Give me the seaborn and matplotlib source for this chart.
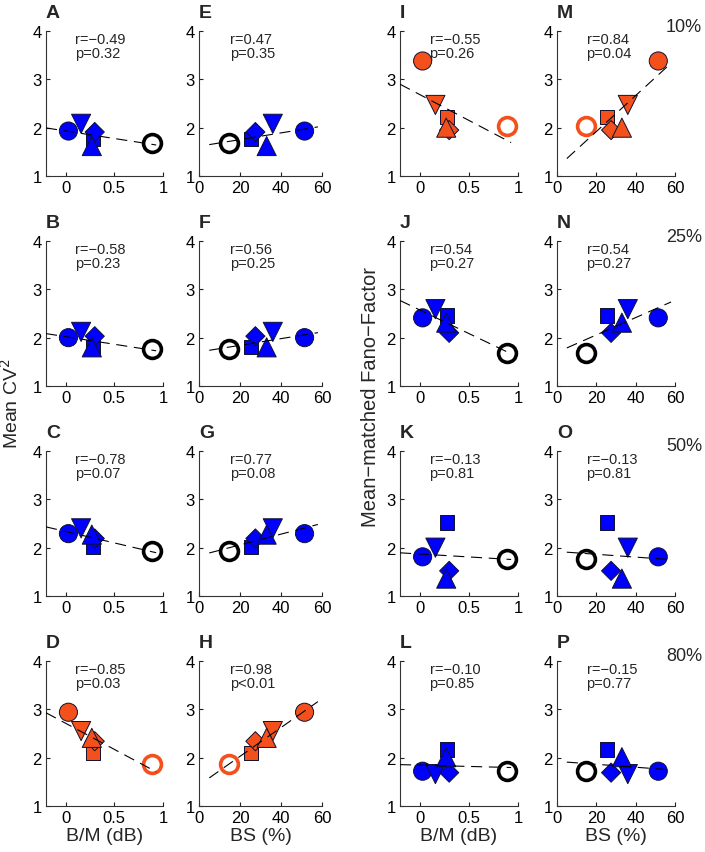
import numpy as np
import pandas as pd
import seaborn as sns
import matplotlib.pyplot as plt

# marker order: filled circle, down-triangle, square, diamond, up-triangle, open circle
shapes = ['circle', 'down', 'square', 'diamond', 'up', 'open']
bm_x = [0.03, 0.16, 0.28, 0.30, 0.27, 0.89]
bs_x = [51.5, 36, 25.5, 27.5, 33, 14.5]

# Mean CV^2 per threshold (10%, 25%, 50%, 80%)
cv2_10 = [1.93, 2.08, 1.76, 1.91, 1.62, 1.69]
cv2_25 = [2.00, 2.12, 1.81, 2.03, 1.80, 1.76]
cv2_50 = [2.29, 2.40, 2.02, 2.19, 2.27, 1.93]
cv2_80 = [2.94, 2.55, 2.09, 2.34, 2.41, 1.86]

# Mean-matched Fano factor per threshold
ff_10 = [3.38, 2.47, 2.22, 1.95, 2.00, 2.03]
ff_25 = [2.41, 2.59, 2.46, 2.10, 2.31, 1.69]
ff_50 = [1.81, 2.00, 2.52, 1.52, 1.36, 1.77]
ff_80 = [1.72, 1.66, 2.17, 1.69, 2.01, 1.72]

thresholds = ['10%', '25%', '50%', '80%']

stats_bm_cv2 = ['r=\u22120.49\np=0.32', 'r=\u22120.58\np=0.23', 'r=\u22120.78\np=0.07', 'r=\u22120.85\np=0.03']
stats_bs_cv2 = ['r=0.47\np=0.35', 'r=0.56\np=0.25', 'r=0.77\np=0.08', 'r=0.98\np<0.01']
stats_bm_ff = ['r=\u22120.55\np=0.26', 'r=0.54\np=0.27', 'r=\u22120.13\np=0.81', 'r=\u22120.10\np=0.85']
stats_bs_ff = ['r=0.84\np=0.04', 'r=0.54\np=0.27', 'r=\u22120.13\np=0.81', 'r=\u22120.15\np=0.77']

letters_bm_cv2 = ['A', 'B', 'C', 'D']
letters_bs_cv2 = ['E', 'F', 'G', 'H']
letters_bm_ff = ['I', 'J', 'K', 'L']
letters_bs_ff = ['M', 'N', 'O', 'P']

BLUE = '#0000ff'
ORANGE = '#f4501c'
cv2_colors = [BLUE, BLUE, BLUE, ORANGE]
ff_colors = [ORANGE, BLUE, BLUE, BLUE]

sns.set_style('white')
plt.rcParams['font.family'] = ['Liberation Sans', 'DejaVu Sans']
plt.rcParams['axes.unicode_minus'] = True

marker_map = {'circle': 'o', 'down': 'v', 'square': 's', 'diamond': 'D', 'up': '^'}
size_map = {'circle': 170, 'down': 190, 'square': 105, 'diamond': 95, 'up': 190}


def draw_panel(ax, xs, ys, color, xkind, letter, stat):
    df = pd.DataFrame({'x': xs, 'y': ys, 'shape': shapes})
    filled = df[df['shape'] != 'open']
    opened = df[df['shape'] == 'open']
    sns.scatterplot(data=filled, x='x', y='y', style='shape', size='shape',
                    markers=marker_map, sizes=size_map, color=color,
                    edgecolor='#101030', linewidth=0.7, legend=False, ax=ax, zorder=3)
    edge = 'black' if color == BLUE else ORANGE
    sns.scatterplot(data=opened, x='x', y='y', marker='o', s=165, color='white',
                    edgecolor=edge, linewidth=2.6, legend=False, ax=ax, zorder=3)

    # least-squares line, dashed, drawn on top of the markers
    k, b = np.polyfit(df['x'], df['y'], 1)
    if xkind == 'bm':
        lx = np.array([-0.2, 0.93])
    else:
        lx = np.array([5, 58])
    ax.plot(lx, k * lx + b, color='black', lw=0.8, ls=(0, (10, 6)), zorder=4)

    if xkind == 'bm':
        ax.set_xlim(-0.2, 1)
        ax.set_xticks([0, 0.5, 1])
        ax.set_xticklabels(['0', '0.5', '1'])
    else:
        ax.set_xlim(0, 60)
        ax.set_xticks([0, 20, 40, 60])
    ax.set_ylim(1, 4)
    ax.set_yticks([1, 2, 3, 4])
    ax.set_xlabel('')
    ax.set_ylabel('')
    for s in ['top', 'right']:
        ax.spines[s].set_visible(False)
    for s in ['left', 'bottom']:
        ax.spines[s].set_color('#333333')
        ax.spines[s].set_linewidth(0.8)
    ax.tick_params(direction='in', length=3, width=0.8, labelsize=12, pad=3,
                   left=True, bottom=True, colors='#222222', labelcolor='black')
    ax.text(0.25, 0.995, stat, transform=ax.transAxes, ha='left', va='top',
            fontsize=10.5, linespacing=1.05)
    ax.text(0.0, 1.13, letter, transform=ax.transAxes, ha='left', va='center',
            fontsize=14, fontweight='bold')


fig = plt.figure(figsize=(7.05, 8.53), dpi=100)

col_left = [46, 199, 400, 557]
col_w = [117, 123, 118, 118]
row_bottom = [177, 387, 597, 807]
W, H = 705, 853
ph = 145

cv2_rows = [cv2_10, cv2_25, cv2_50, cv2_80]
ff_rows = [ff_10, ff_25, ff_50, ff_80]

for r in range(4):
    bottom = 1 - row_bottom[r] / H
    axes = [fig.add_axes([col_left[c] / W, bottom, col_w[c] / W, ph / H]) for c in range(4)]
    draw_panel(axes[0], bm_x, cv2_rows[r], cv2_colors[r], 'bm', letters_bm_cv2[r], stats_bm_cv2[r])
    draw_panel(axes[1], bs_x, cv2_rows[r], cv2_colors[r], 'bs', letters_bs_cv2[r], stats_bs_cv2[r])
    draw_panel(axes[2], bm_x, ff_rows[r], ff_colors[r], 'bm', letters_bm_ff[r], stats_bm_ff[r])
    draw_panel(axes[3], bs_x, ff_rows[r], ff_colors[r], 'bs', letters_bs_ff[r], stats_bs_ff[r])
    fig.text(666 / W, 1 - (27 + 210 * r) / H, thresholds[r], ha='left', va='center', fontsize=13)
    if r == 3:
        for c, lab in enumerate(['B/M (dB)', 'BS (%)', 'B/M (dB)', 'BS (%)']):
            axes[c].set_xlabel(lab, fontsize=14, labelpad=1)

fig.text(0.015, 0.527, 'Mean CV$^2$', rotation=90, ha='center', va='center', fontsize=14)
fig.text(371 / W, 0.534, 'Mean\u2212matched Fano\u2212Factor', rotation=90,
         ha='center', va='center', fontsize=14.5)

fig.savefig('out.png', dpi=100)
